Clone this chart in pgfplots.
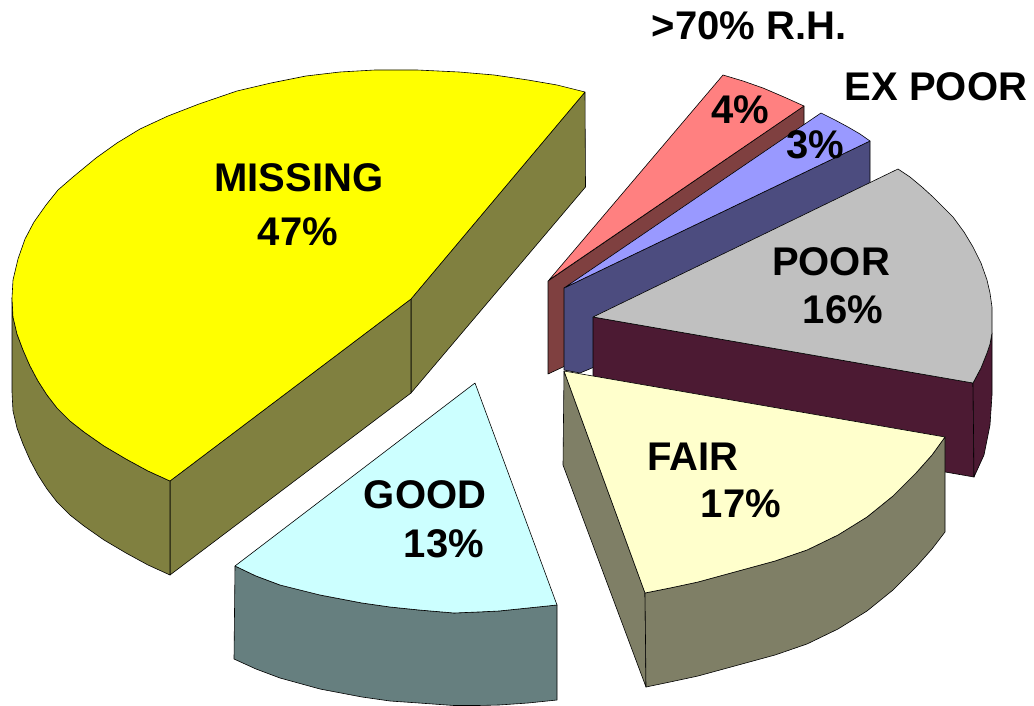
\documentclass[border=0pt]{standalone}
\usepackage{fontspec}
\setmainfont{Liberation Sans}
\usepackage{pgfplots}
\pgfplotsset{compat=1.18}
\definecolor{ywT}{HTML}{FFFF00}\definecolor{ywW}{HTML}{808040}
\definecolor{gdT}{HTML}{CCFFFF}\definecolor{gdW}{HTML}{667F7F}
\definecolor{frT}{HTML}{FFFFCC}\definecolor{frW}{HTML}{7F7F66}
\definecolor{prT}{HTML}{C0C0C0}\definecolor{prW}{HTML}{4C1A33}
\definecolor{exT}{HTML}{9999FF}\definecolor{exW}{HTML}{4C4C7F}
\definecolor{rhT}{HTML}{FF8080}\definecolor{rhW}{HTML}{7F4040}
\pgfplotsset{pie/.style={draw=black,line width=0.6pt,line join=round,no markers,forget plot}}
\newcommand\lab[1]{{\bfseries\fontsize{40}{40}\selectfont #1}}
\begin{document}
\begin{tikzpicture}
\begin{axis}[hide axis,scale only axis,width=1034pt,height=706pt,xmin=0,xmax=1034,ymin=0,ymax=706,y dir=reverse,clip=false]
\addplot[draw=none,forget plot] coordinates {(0,0)(1034,706)};
% MISSING
\addplot[pie,fill=ywW] coordinates {(585,92)(585.5,187)(411,393)(411,299)(585,92)};
\addplot[pie,fill=ywW] coordinates {(411,299)(411,393)(170,575)(170,481)(411,299)};
\addplot[pie,fill=ywW] coordinates {(12,298)(13,317)(17,334)(23,350)(30,366)(38,381)(47,395)(57,408)(70,421)(84,432)(104,446)(126,459)(148,471)(170,481)(170,575)(148,565)(126,553)(104,540)(84,526)(70,515)(57,502)(47,489)(38,475)(30,460)(23,444)(17,428)(13,411)(12,392)(12,298)};
\addplot[pie,fill=ywT] coordinates {(585,92)(557,85)(528,80)(494,75)(459,72)(417,70)(375,70)(340,72)(306,76)(271,83)(237,91)(199,104)(168,116)(140,129)(117,143)(96,158)(73,177)(58,190)(46,205)(34,222)(25,239)(18,259)(13,280)(12,298)(13,317)(17,334)(23,350)(30,366)(38,381)(47,395)(57,408)(70,421)(84,432)(104,446)(126,459)(148,471)(170,481)(411,299)(585,92)};
% >70% R.H.
\addplot[pie,fill=rhW] coordinates {(804,106)(804,200)(563,367)(548,374)(548,281)(804,106)};
\addplot[pie,fill=rhT] coordinates {(549,280)(723,75)(743,81)(763,88)(784,97)(804,106)(549,280)};
% EX POOR
\addplot[pie,fill=exW] coordinates {(870,141)(870,235)(592,368)(580,373)(564,370)(564,288)(870,141)};
\addplot[pie,fill=exT] coordinates {(564,288)(821,113)(835,120)(848,127)(860,134)(870,141)(564,288)};
% POOR
\addplot[pie,fill=prW] coordinates {(593,317)(973,383)(974,477)(593,411)(593,317)};
\addplot[pie,fill=prW] coordinates {(973,383)(981,368)(987,353)(990,344)(992,333)(992,395)(990,425)(984,455)(974,477)(973,383)};
\addplot[pie,fill=prT] coordinates {(593,317)(898,169)(910,177)(922,187)(933,197)(943,207)(953,217)(964,232)(973,247)(981,263)(987,280)(990,293)(992,307)(992,320)(992,333)(990,344)(987,353)(981,368)(973,383)(593,317)};
% FAIR
\addplot[pie,fill=frW] coordinates {(564,371)(645,593)(646,687)(563,465)(564,371)};
\addplot[pie,fill=frW] coordinates {(645,593)(670,588)(698,582)(742,570)(775,561)(807,550)(838,535)(867,517)(893,496)(916,473)(932,455)(945,437)(945,532)(932,549)(916,567)(893,590)(867,611)(838,629)(807,644)(775,655)(742,664)(698,676)(670,682)(646,687)(645,593)};
\addplot[pie,fill=frT] coordinates {(564,371)(945,437)(932,455)(916,473)(893,496)(867,517)(838,535)(807,550)(775,561)(742,570)(698,582)(670,588)(645,593)(564,371)};
% GOOD
\addplot[pie,fill=gdW] coordinates {(235,566)(256,576)(280,585)(320,595)(362,603)(390,607)(419,610)(454,613)(478,612)(499,611)(528,608)(557,605)(557,700)(528,703)(499,705)(478,705.5)(454,705.5)(419,703)(390,701)(362,697)(320,689)(280,678)(256,669)(234,659)(235,566)};
\addplot[pie,fill=gdT] coordinates {(475,383)(235,566)(256,576)(280,585)(320,595)(362,603)(390,607)(419,610)(454,613)(478,612)(499,611)(528,608)(557,605)(475,383)};
% labels
\node[anchor=base,inner sep=0pt] at (axis cs:299,192) {\lab{MISSING}};
\node[anchor=base,inner sep=0pt] at (axis cs:298,245) {\lab{47\%}};
\node[anchor=base,inner sep=0pt] at (axis cs:749,40) {\lab{>70\% R.H.}};
\node[anchor=base,inner sep=0pt] at (axis cs:936,101) {\lab{EX POOR}};
\node[anchor=base,inner sep=0pt] at (axis cs:740,124) {\lab{4\%}};
\node[anchor=base,inner sep=0pt] at (axis cs:815,159) {\lab{3\%}};
\node[anchor=base,inner sep=0pt] at (axis cs:831,275) {\lab{POOR}};
\node[anchor=base,inner sep=0pt] at (axis cs:843,323) {\lab{16\%}};
\node[anchor=base,inner sep=0pt] at (axis cs:693,470) {\lab{FAIR}};
\node[anchor=base,inner sep=0pt] at (axis cs:741,517) {\lab{17\%}};
\node[anchor=base,inner sep=0pt] at (axis cs:425,508) {\lab{GOOD}};
\node[anchor=base,inner sep=0pt] at (axis cs:444,557) {\lab{13\%}};
\end{axis}
\end{tikzpicture}
\end{document}
